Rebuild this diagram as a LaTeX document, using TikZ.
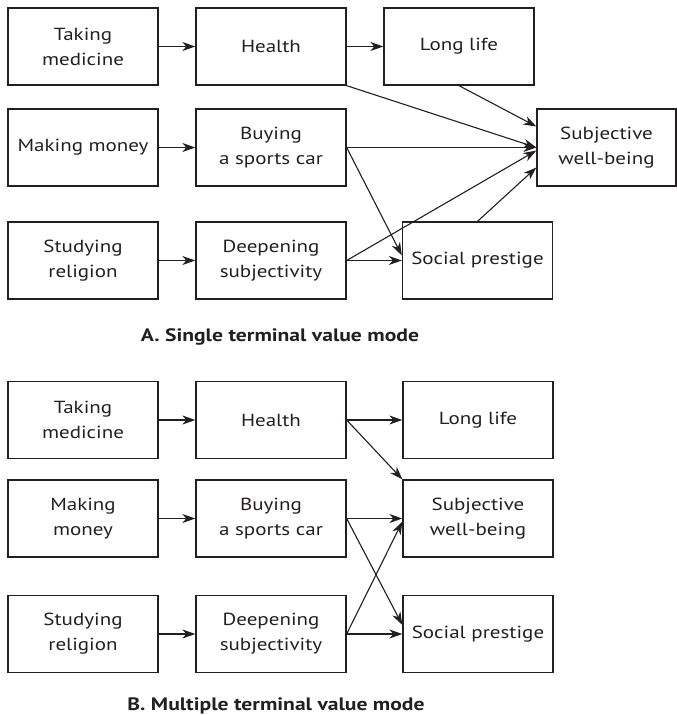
\documentclass[tikz,border=0pt]{standalone}
\usepackage{fontspec}
\setmainfont{PT Sans}[FakeStretch=1.2]
\usetikzlibrary{arrows.meta}
\definecolor{ink}{HTML}{231F20}
\tikzset{
  box/.style={draw=ink, line width=1.3pt, minimum width=150pt, minimum height=77pt,
    inner sep=0pt, align=center, text=ink, font=\fontsize{17.5}{25}\selectfont},
  link/.style={draw=ink, line width=1.1pt, -{Stealth[length=13pt,width=9pt,inset=4pt]}},
  caption/.style={text=ink, font=\bfseries\fontsize{18}{21}\selectfont, inner sep=0pt}
}
\begin{document}
\begin{tikzpicture}[x=1pt,y=-1pt]
\useasboundingbox (0,0) rectangle (677,715);
% ---- A ----
\node[box] (tm1) at (83,46.5) {Taking\\medicine};
\node[box] (h1) at (271,46.5) {Health};
\node[box] (ll1) at (459,46.5) {Long life};
\node[box] (mm1) at (83,147.5) {Making money};
\node[box] (b1) at (271,147.5) {Buying\\a sports car};
\node[box, minimum width=139pt] (sw1) at (606.5,147.5) {Subjective\\well-being};
\node[box] (sr1) at (83,260.5) {Studying\\religion};
\node[box] (d1) at (271,260.5) {Deepening\\subjectivity};
\node[box] (sp1) at (477.5,260.5) {Social prestige};
\node[caption] (capa) at (280,337) {A. Single terminal value mode};
\draw[link] (tm1.east) -- (h1.west);
\draw[link] (h1.east) -- (ll1.west);
\draw[link] (h1.south east) -- (sw1.west);
\draw[link] (ll1.south) -- ([yshift=21pt]sw1.west);
\draw[link] (mm1.east) -- (b1.west);
\draw[link] (b1.east) -- (sw1.west);
\draw[link] (b1.east) -- ([yshift=5pt]sp1.west);
\draw[link] (sr1.east) -- (d1.west);
\draw[link] (d1.east) -- ([yshift=-3pt]sw1.west);
\draw[link] (d1.east) -- (sp1.west);
\draw[link] (sp1.north) -- ([yshift=-20pt]sw1.west);
% ---- B ----
\node[box] (tm2) at (83,420) {Taking\\medicine};
\node[box] (h2) at (271,420) {Health};
\node[box] (ll2) at (478,420) {Long life};
\node[box] (mm2) at (83,518.5) {Making\\money};
\node[box] (b2) at (271,518.5) {Buying\\a sports car};
\node[box] (sw2) at (478,518.5) {Subjective\\well-being};
\node[box] (sr2) at (83,634) {Studying\\religion};
\node[box] (d2) at (271,634) {Deepening\\subjectivity};
\node[box] (sp2) at (478,634) {Social prestige};
\node[caption] (capb) at (276,706) {B. Multiple terminal value mode};
\draw[link] (tm2.east) -- (h2.west);
\draw[link] (h2.east) -- (ll2.west);
\draw[link] (h2.east) -- (sw2.north west);
\draw[link] (mm2.east) -- (b2.west);
\draw[link] (b2.east) -- (sw2.west);
\draw[link] (b2.east) -- ([yshift=9pt]sp2.west);
\draw[link] (sr2.east) -- (d2.west);
\draw[link] (d2.east) -- (sp2.west);
\draw[link] (d2.east) -- ([yshift=-3pt]sw2.west);
\end{tikzpicture}
\end{document}
